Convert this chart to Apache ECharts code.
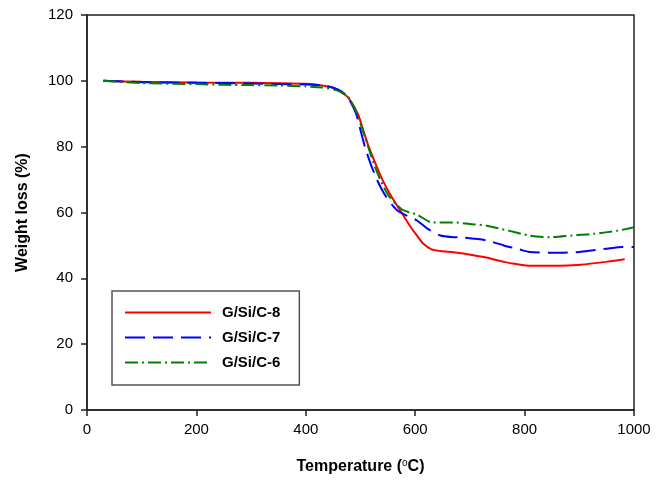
<!DOCTYPE html>
<html>
<head>
<meta charset="utf-8">
<script src="https://cdn.jsdelivr.net/npm/echarts@6/dist/echarts.min.js"></script>
<style>html,body{margin:0;padding:0;background:#fff}#c{width:664px;height:480px}</style>
</head>
<body>
<div id="c"></div>
<script>
const seriesNames = ['G/Si/C-8', 'G/Si/C-7', 'G/Si/C-6'];
const xTicks = [0, 200, 400, 600, 800, 1000];
const yTicks = [0, 20, 40, 60, 80, 100, 120];

const tempRed = [30, 100, 200, 300, 350, 400, 430, 445, 457, 468, 478, 495, 505, 515, 527, 540, 556, 575, 592, 604, 615, 630, 646, 670, 693, 730, 762, 790, 809, 847, 880, 902, 948, 983];
const weightRed = [100, 99.7, 99.5, 99.4, 99.3, 99.1, 98.6, 98.1, 97.4, 96.2, 94.8, 90, 85, 80, 75, 70, 65, 60, 55.5, 52.8, 50.5, 48.8, 48.3, 47.9, 47.4, 46.3, 45, 44.2, 43.8, 43.8, 43.9, 44.1, 45, 45.8];

const tempBlue = [30, 100, 200, 300, 400, 430, 450, 465, 477, 492, 500, 508, 518, 530, 546, 568, 588, 604, 623, 646, 670, 685, 731, 762, 790, 809, 850, 871, 900, 925, 950, 979, 1000];
const weightBlue = [100, 99.6, 99.4, 99.2, 98.9, 98.6, 97.9, 96.8, 95, 90, 85, 80, 75, 70, 65, 60.5, 58.8, 57.5, 55, 53, 52.5, 52.4, 51.5, 50, 48.8, 48, 47.8, 47.8, 48, 48.5, 49, 49.5, 49.5];

const tempGreen = [30, 100, 200, 250, 300, 350, 400, 430, 450, 465, 478, 494, 504, 514, 524, 536, 552, 575, 590, 604, 631, 669, 700, 731, 770, 809, 847, 886, 925, 971, 1000];
const weightGreen = [100, 99.3, 99, 98.8, 98.7, 98.6, 98.3, 98, 97.4, 96.5, 95, 90, 85, 80, 75, 70, 65, 61, 60, 59.3, 57, 57, 56.5, 56, 54.5, 53, 52.5, 53, 53.5, 54.5, 55.5];

function pairs(xs, ys) { return xs.map((x, i) => [x, ys[i]]); }

const chart = echarts.init(document.getElementById('c'), null, { renderer: 'canvas' });
const axisColor = '#222';
const labelFont = { color: '#000', fontSize: 15, fontFamily: 'Liberation Sans, Arial, sans-serif' };

chart.setOption({
  animation: false,
  backgroundColor: '#fff',
  grid: { left: 87, right: 30, top: 15, bottom: 68, show: true, borderColor: axisColor, borderWidth: 1.5 },
  xAxis: {
    type: 'value', min: 0, max: 1000, interval: 200,
    name: '{a|Temperature (}{s|o}{a|C)}',
    nameLocation: 'middle', nameGap: 48,
    nameTextStyle: {
      rich: {
        a: { fontSize: 16, fontWeight: 'bold', color: '#000', fontFamily: 'Liberation Sans, Arial, sans-serif' },
        s: { fontSize: 10, color: '#000', verticalAlign: 'top', padding: [0, 0, 8, 0], fontFamily: 'Liberation Sans, Arial, sans-serif' }
      }
    },
    axisLine: { show: true, lineStyle: { color: axisColor, width: 1.5 } },
    axisTick: { show: true, inside: false, length: 6, lineStyle: { color: axisColor, width: 1.5 } },
    axisLabel: Object.assign({ margin: 12, formatter: v => xTicks.includes(v) ? String(v) : '' }, labelFont),
    splitLine: { show: false }
  },
  yAxis: {
    type: 'value', min: 0, max: 120, interval: 20,
    name: 'Weight loss (%)',
    nameLocation: 'middle', nameGap: 56,
    nameTextStyle: { fontSize: 16, fontWeight: 'bold', color: '#000', fontFamily: 'Liberation Sans, Arial, sans-serif' },
    axisLine: { show: true, lineStyle: { color: axisColor, width: 1.5 } },
    axisTick: { show: true, inside: false, length: 6, lineStyle: { color: axisColor, width: 1.5 } },
    axisLabel: Object.assign({ margin: 14, formatter: v => yTicks.includes(v) ? String(v) : '' }, labelFont),
    splitLine: { show: false }
  },
  legend: {
    left: 112, top: 291, orient: 'vertical',
    padding: [14, 19, 15, 12],
    itemWidth: 86, itemHeight: 14, itemGap: 10,
    borderColor: '#555', borderWidth: 1.5,
    itemStyle: { opacity: 0 },
    textStyle: { fontSize: 15, fontWeight: 'bold', color: '#000', padding: [0, 0, 0, 6], fontFamily: 'Liberation Sans, Arial, sans-serif' },
    data: seriesNames
  },
  series: [
    { name: seriesNames[0], type: 'line', data: pairs(tempRed, weightRed), smooth: 0.25, symbol: 'none',
      lineStyle: { color: '#ff0000', width: 2 }, itemStyle: { color: '#ff0000' } },
    { name: seriesNames[1], type: 'line', data: pairs(tempBlue, weightBlue), smooth: 0.25, symbol: 'none',
      lineStyle: { color: '#0000ff', width: 2, type: [20, 8] }, itemStyle: { color: '#0000ff' } },
    { name: seriesNames[2], type: 'line', data: pairs(tempGreen, weightGreen), smooth: 0.25, symbol: 'none',
      lineStyle: { color: '#008000', width: 2, type: [13, 4, 2, 4] }, itemStyle: { color: '#008000' } }
  ]
});
</script>
</body>
</html>
